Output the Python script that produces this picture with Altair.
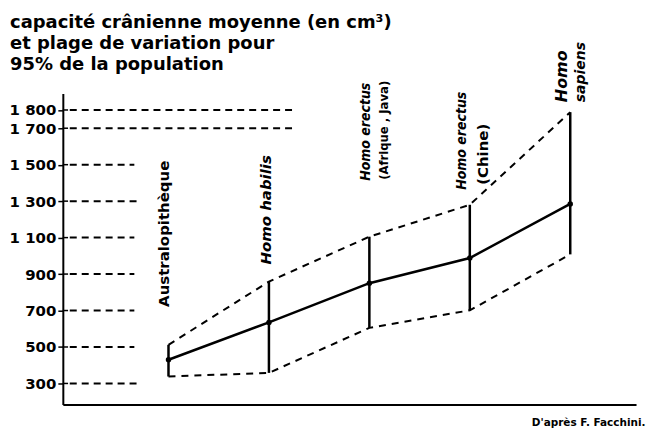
import altair as alt
import pandas as pd

# ---- data ----
species_idx = [1, 2, 3, 4, 5]
species = ["Australopithèque", "Homo habilis", "Homo erectus (Afrique, Java)",
           "Homo erectus (Chine)", "Homo sapiens"]
mean_cc = [430, 635, 850, 988, 1285]
low_cc = [338, 358, 605, 701, 1008]
high_cc = [512, 859, 1105, 1280, 1788]

tick_values = [300, 500, 700, 900, 1100, 1300, 1500, 1700, 1800]
grid_end = [0.71, 0.66, 0.66, 0.66, 0.66, 0.71, 0.66, 2.23, 2.23]

title_lines = ["capacité crânienne moyenne (en cm³)",
               "et plage de variation pour",
               "95% de la population"]
source_text = "D'après F. Facchini."

FONT = "DejaVu Sans"
COND = "'DejaVu Sans Condensed', 'DejaVu Sans'"

df = pd.DataFrame({"idx": species_idx, "species": species, "mean": mean_cc,
                   "low": low_cc, "high": high_cc})
grid = pd.DataFrame({"v": tick_values, "x0": [0.017] * len(tick_values),
                     "x1": grid_end, "a0": [-0.052] * len(tick_values),
                     "a1": [0.0] * len(tick_values)})

XS = alt.Scale(domain=[-0.052, 5.655], nice=False, zero=False)
YS = alt.Scale(domain=[185, 1891], nice=False, zero=False)

X_AX = alt.Axis(labels=False, ticks=False, grid=False, domainWidth=2,
                domainColor="black", title=source_text, titleFont=FONT,
                titleFontSize=10.5, titleFontWeight="bold", titleColor="black",
                titleAlign="right", titleX=584, titleY=18, titleBaseline="middle",
                titleAnchor="end")
Y_AX = alt.Axis(values=tick_values,
                labelExpr="datum.value >= 1000 ? floor(datum.value/1000) + ' ' + format(datum.value % 1000, '03d') : format(datum.value, 'd')",
                tickSize=5, tickWidth=1.5, tickColor="black", domainWidth=2,
                domainColor="black", labelFont=FONT, labelFontSize=15,
                labelFontWeight="bold", labelColor="black", labelPadding=2,
                grid=False, title=None)


def X(f):
    return alt.X(f"{f}:Q", scale=XS, axis=X_AX)


def Y(f):
    return alt.Y(f"{f}:Q", scale=YS, axis=Y_AX)


gridlines = alt.Chart(grid).mark_rule(color="black", strokeWidth=2,
                                      strokeDash=[7, 5]).encode(
    x=X("x0"), x2="x1", y=Y("v"))
inner_ticks = alt.Chart(grid).mark_rule(color="black", strokeWidth=1.5).encode(
    x=X("a0"), x2="a1", y=Y("v"))

base = alt.Chart(df)
low_line = base.mark_line(color="black", strokeWidth=2, strokeDash=[7, 6]).encode(
    x=X("idx"), y=Y("low"))
high_line = base.mark_line(color="black", strokeWidth=2, strokeDash=[7, 6]).encode(
    x=X("idx"), y=Y("high"))
ranges = base.mark_rule(color="black", strokeWidth=2.5).encode(
    x=X("idx"), y=Y("low"), y2="high")
mean_line = base.mark_line(color="black", strokeWidth=2.5,
                           point=alt.OverlayMarkDef(color="black", size=30, filled=True)).encode(
    x=X("idx"), y=Y("mean"))

# species labels: (species index, text, gap above max, perpendicular shift, font, size, style)
label_specs = [
    (0, "Australopithèque", 38, -4, FONT, 15, "normal"),
    (1, "Homo habilis", 17, -3, FONT, 15, "italic"),
    (2, "Homo erectus", 56, -3, COND, 14, "italic"),
    (2, "(Afrique , Java)", 57, 15, COND, 13, "normal"),
    (3, "Homo erectus", 15, -8, COND, 14, "italic"),
    (3, "(Chine)", 20, 13, FONT, 15, "normal"),
    (4, "Homo", 10, -8, FONT, 16, "italic"),
    (4, "sapiens", 10, 11, FONT, 14, "italic"),
]
labels = []
for i, txt, gap, shift, font, size, style in label_specs:
    sub = df.iloc[[i]]
    labels.append(alt.Chart(sub).mark_text(
        text=txt, angle=270, align="left", baseline="middle", dx=gap, dy=shift,
        font=font, fontSize=size, fontStyle=style, fontWeight="bold", color="black"
    ).encode(x=X("idx"), y=Y("high")))

chart = alt.layer(gridlines, inner_ticks, low_line, high_line, ranges, mean_line,
                  *labels).properties(
    width=575, height=312,
    autosize="none",
    background="white",
    padding={"left": 55, "top": 85, "right": 10, "bottom": 26},
    title=alt.TitleParams(text=title_lines, anchor="start", frame="group", dx=-53,
                          dy=46, font=FONT, fontSize=18, fontWeight="bold",
                          color="black", lineHeight=21, offset=14),
).configure_view(stroke=None)

chart.save("out.html", embed_options={"renderer": "svg", "actions": False})
